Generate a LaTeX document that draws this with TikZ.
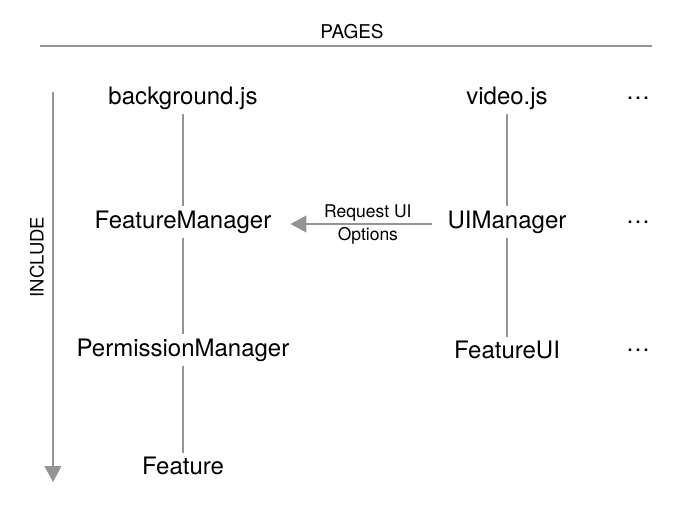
\documentclass[tikz,border=0pt]{standalone}
\usepackage{fontspec}
\setmainfont{TeX Gyre Heros}
\usetikzlibrary{arrows.meta, positioning}

\begin{document}
\begin{tikzpicture}[x=1pt, y=-1pt,
		file/.style={inner sep=4pt, font=\fontsize{24}{28}\selectfont},
		link/.style={draw=black!42, line width=1.4pt},
		head/.style={-{Triangle[width=17pt,length=16pt]}, draw=black!42, line width=1.4pt}]
					\useasboundingbox (0,0) rectangle (692,516);

					%% axes
					\node[font=\fontsize{19}{23}\selectfont] (pages) at (352,32) {PAGES};
					\coordinate (pl) at (40,46);
					\coordinate (pr) at (652,46);
					\draw[link, line width=2pt] (pl) -- (pr);

					\coordinate (it) at (53,92);
					\coordinate (ib) at (53,482);
					\draw[head] (it) -- (ib);
					\node[rotate=90, font=\fontsize{18.5}{22}\selectfont] (include) at (37,257) {INCLUDE};

					%% background page
					\node[file] (bg) at (183,98) {background.js};
					\node[file] (fm) at (183,222) {FeatureManager};
					\node[file] (pm) at (183,350) {PermissionManager};
					\node[file] (f) at (183,466) {Feature};

					%% video page
					\node[file] (vid) at (507,98) {video.js};
					\node[file] (uim) at (507,222) {UIManager};
					\node[file] (fui) at (507,350) {FeatureUI};

					%% more pages
					\node[file] (d1) at (638,98) {\dots};
					\node[file] (d2) at (638,222) {\dots};
					\node[file] (d3) at (638,350) {\dots};

					\draw[link] (bg) -- (fm);
					\draw[link] (fm) -- (pm);
					\draw[link] (pm) -- (f);
					\draw[link] (vid) -- (uim);
					\draw[link] (uim) -- (fui);

					\draw[head, shorten <=11pt, shorten >=15pt] ([yshift=-2pt]uim.west) -- ([yshift=-2pt]fm.east)
						node[pos=0.45, above=-1pt, font=\fontsize{17.5}{20}\selectfont] (req) {Request UI}
						node[pos=0.45, below=-1pt, font=\fontsize{17.5}{20}\selectfont] (opt) {Options};
				\end{tikzpicture}
\end{document}
